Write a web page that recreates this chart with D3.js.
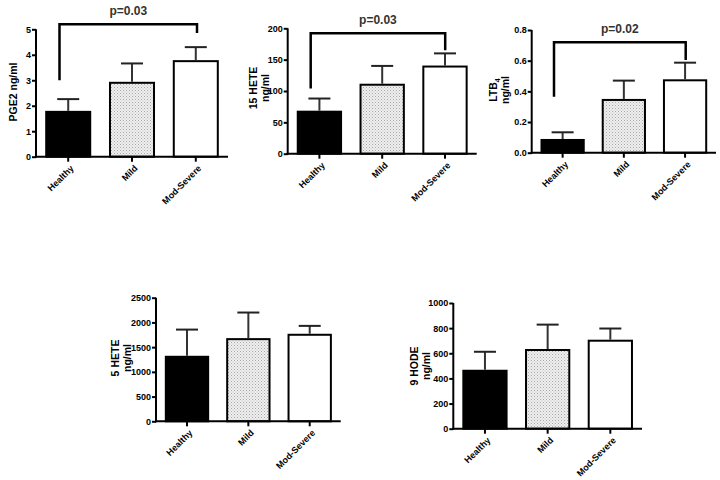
<!DOCTYPE html>
<html><head><meta charset="utf-8">
<script src="https://cdn.jsdelivr.net/npm/d3@7"></script>
<style>body{margin:0;background:#fff;} svg{display:block;font-family:"Liberation Sans",Arial,sans-serif;}</style>
</head><body>
<svg id="c" width="720" height="480"></svg>
<script>
const categories = ["Healthy", "Mild", "Mod-Severe"];
const pge2Mean = [1.76, 2.90, 3.75];
const pge2Err = [2.26, 3.66, 4.30];
const hete15Mean = [67, 110, 139];
const hete15Err = [88, 140, 160];
const ltb4Mean = [0.083, 0.344, 0.472];
const ltb4Err = [0.133, 0.470, 0.587];
const hete5Mean = [1305, 1662, 1750];
const hete5Err = [1855, 2200, 1930];
const hode9Mean = [461, 626, 700];
const hode9Err = [612, 828, 797];
const pge2Ticks = [0, 1, 2, 3, 4, 5];
const hete15Ticks = [0, 50, 100, 150, 200];
const ltb4Ticks = [0, 0.2, 0.4, 0.6, 0.8];
const hete5Ticks = [0, 500, 1000, 1500, 2000, 2500];
const hode9Ticks = [0, 200, 400, 600, 800, 1000];
const pLabels = ["p=0.03", "p=0.03", "p=0.02"];
// bracket: [top value, left leg bottom value, right leg bottom value]
const pge2Bracket = [5.2, 3.0, 4.85];
const hete15Bracket = [192, 104, 165];
const ltb4Bracket = [0.72, 0.365, 0.605];

const svg = d3.select("#c");
const defs = svg.append("defs");
const pat = defs.append("pattern").attr("id","dots").attr("width",3).attr("height",3).attr("patternUnits","userSpaceOnUse");
pat.append("rect").attr("width",3).attr("height",3).attr("fill","#efefef");
pat.append("rect").attr("x",0).attr("y",0).attr("width",1).attr("height",1).attr("fill","#a8a8a8");
pat.append("rect").attr("x",1.5).attr("y",1.5).attr("width",1).attr("height",1).attr("fill","#bdbdbd");
const fills = ["#000", "url(#dots)", "#fff"];

function panel(o) {
  const g = svg.append("g");
  const y = d3.scaleLinear().domain([0, o.max]).range([o.y0, o.yTop]);
  const x = d3.scaleBand().domain(categories).range([o.left, o.right]).paddingInner(0.31).paddingOuter(0.16);
  g.selectAll("rect.bar").data(categories).join("rect")
    .attr("x", d => x(d)).attr("width", x.bandwidth())
    .attr("y", (d,i) => y(o.mean[i])).attr("height", (d,i) => y(0) - y(o.mean[i]))
    .attr("fill", (d,i) => fills[i]).attr("stroke", "#000").attr("stroke-width", 2);
  categories.forEach((c,i) => {
    const cx = x(c) + x.bandwidth()/2;
    g.append("line").attr("x1",cx).attr("x2",cx).attr("y1",y(o.mean[i])-1).attr("y2",y(o.err[i]))
      .attr("stroke","#333").attr("stroke-width",2);
    g.append("line").attr("x1",cx-11).attr("x2",cx+11).attr("y1",y(o.err[i])).attr("y2",y(o.err[i]))
      .attr("stroke","#222").attr("stroke-width",2);
  });
  const ya = g.append("g").attr("transform",`translate(${o.left},0)`)
    .call(d3.axisLeft(y).tickValues(o.ticks).tickSize(4).tickSizeOuter(0).tickPadding(1).tickFormat(o.fmt || d3.format("d")));
  ya.select(".domain").attr("stroke-width",2).attr("d",`M0,${o.y0+1}V${o.yTop}`);
  ya.selectAll(".tick line").attr("stroke-width",2);
  ya.selectAll(".tick text").attr("font-size",9).attr("font-weight","bold").attr("fill","#000").attr("font-family","Liberation Sans, Arial, sans-serif");
  const xa = g.append("g").attr("transform",`translate(0,${o.y0})`)
    .call(d3.axisBottom(x).tickSize(5).tickSizeOuter(0).tickFormat(""));
  xa.select(".domain").attr("stroke-width",2).attr("d",`M${o.left-1},0H${o.right}`);
  xa.selectAll(".tick line").attr("stroke-width",2);
  categories.forEach(c => {
    const cx = x(c) + x.bandwidth()/2;
    const ax = cx + 2, ay = o.y0 + 8;
    g.append("text").attr("transform",`rotate(-45 ${ax} ${ay})`)
      .attr("text-anchor","end").attr("x",ax).attr("y",ay).attr("dy","0.65em").attr("font-size",9).attr("font-weight","bold").text(c);
  });
  const yl = g.append("text").attr("transform",`translate(${o.labX},${o.labY}) rotate(-90)`)
    .attr("text-anchor","middle").attr("font-size",10.5).attr("font-weight","bold");
  if (o.label2) {
    const t1 = yl.append("tspan").attr("x",0).attr("y",0);
    if (o.sub) { t1.text(o.label1); t1.append("tspan").attr("font-size",7).attr("dy",3).text(o.sub); }
    else t1.text(o.label1);
    yl.append("tspan").attr("x",0).attr("y",12).text(o.label2);
  } else {
    yl.text(o.label1);
  }
  if (o.bracket) {
    const lx = o.left + o.brL, rx = o.left + o.brR;
    g.append("path").attr("d",`M${lx},${y(o.bracket[1])}V${y(o.bracket[0])}H${rx}V${y(o.bracket[2])}`)
      .attr("fill","none").attr("stroke","#000").attr("stroke-width",2.5);
    g.append("text").attr("x",(lx+rx)/2).attr("y",y(o.bracket[0]) - 9).attr("text-anchor","middle")
      .attr("font-size",12).attr("font-weight","bold").attr("fill","#333").text(o.p);
  }
}

panel({left:36, right:228, y0:156.7, yTop:29.3, max:5, mean:pge2Mean, err:pge2Err, ticks:pge2Ticks,
  label1:"PGE2 ng/ml", labX:17, labY:92, bracket:pge2Bracket, brL:23.5, brR:161, p:pLabels[0]});
panel({left:287.7, right:476.7, y0:153.7, yTop:28.3, max:200, mean:hete15Mean, err:hete15Err, ticks:hete15Ticks,
  label1:"15 HETE", label2:"ng/ml", labX:257, labY:88, bracket:hete15Bracket, brL:23, brR:157.5, p:pLabels[1]});
panel({left:531.7, right:716, y0:152.7, yTop:30, max:0.8, mean:ltb4Mean, err:ltb4Err, ticks:ltb4Ticks, fmt:d3.format(".1f"),
  label1:"LTB", sub:"4", label2:"ng/ml", labX:497, labY:90, bracket:ltb4Bracket, brL:22.3, brR:154, p:pLabels[2]});
panel({left:156, right:340.7, y0:421.3, yTop:297.7, max:2500, mean:hete5Mean, err:hete5Err, ticks:hete5Ticks,
  label1:"5 HETE", label2:"ng/ml", labX:119, labY:358});
panel({left:453.3, right:642, y0:428.7, yTop:303, max:1000, mean:hode9Mean, err:hode9Err, ticks:hode9Ticks,
  label1:"9 HODE", label2:"ng/ml", labX:418, labY:366});
</script>
</body></html>
